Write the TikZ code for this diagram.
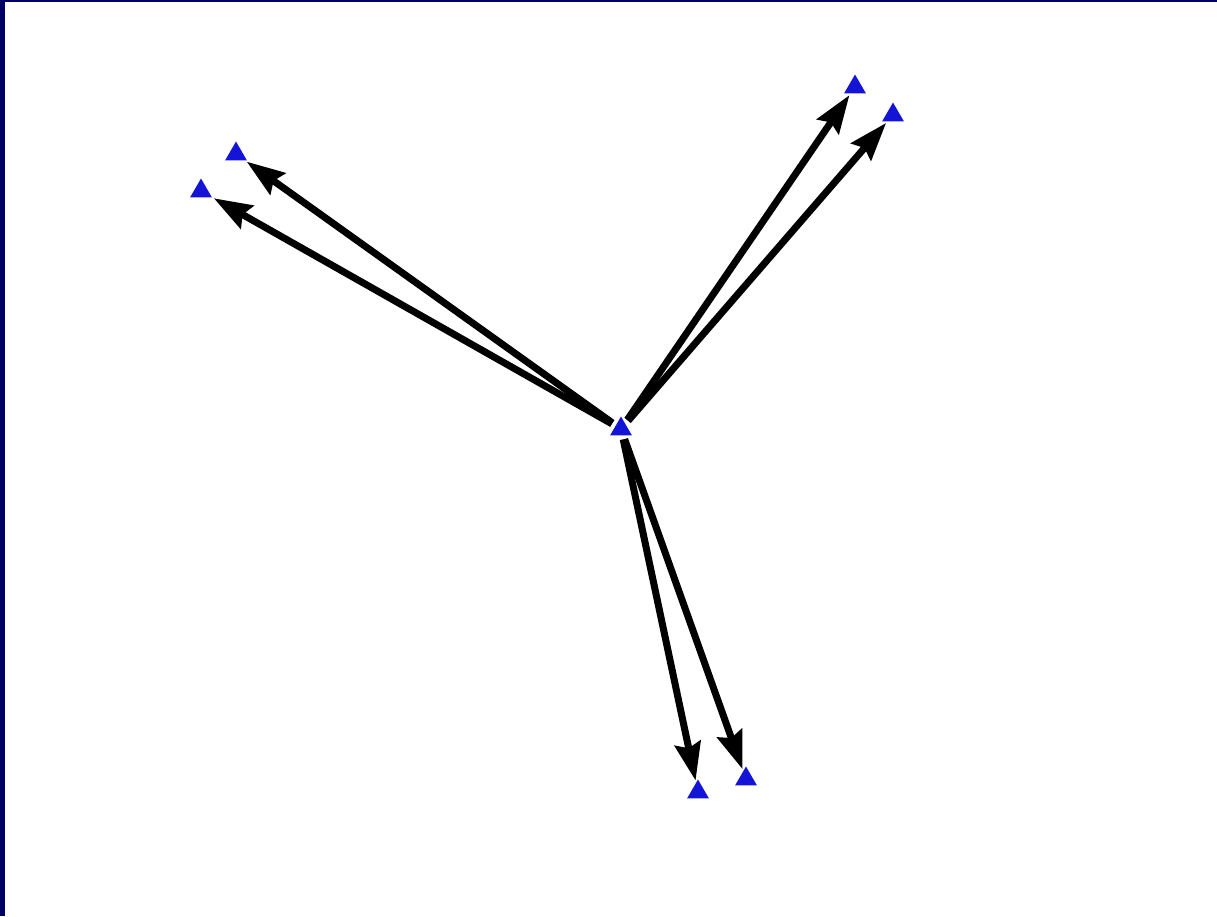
\documentclass[tikz,border=0pt]{standalone}
\usepackage{tikz}
\usetikzlibrary{arrows.meta,shapes.geometric}
\definecolor{navy}{RGB}{0,0,100}
\definecolor{tblue}{RGB}{20,20,215}

\begin{document}
\begin{tikzpicture}[
  x=1pt,y=-1pt,
  tri/.style={regular polygon,regular polygon sides=3,fill=tblue,draw=none,minimum size=25pt,inner sep=0pt},
  arrow/.style={-{Stealth[length=38pt,width=26pt,inset=5pt]},line width=7pt,shorten >=2pt,shorten <=4pt}
]
\useasboundingbox (0,0) rectangle (1217,916);
\fill[white] (0,0) rectangle (1217,916);
\fill[navy] (0,0) rectangle (5,916);
\fill[navy] (0,0) rectangle (1217,1.5);
\node[tri] (o) at (621,429) {};
\node[tri] (a1) at (236,154) {};
\node[tri] (a2) at (201,191) {};
\node[tri] (b1) at (855,87) {};
\node[tri] (b2) at (893,115) {};
\node[tri] (c1) at (698,792) {};
\node[tri] (c2) at (746,779) {};
\draw[arrow] (o) -- (a1);
\draw[arrow] (o) -- (a2);
\draw[arrow] (o) -- (b1);
\draw[arrow] (o) -- (b2);
\draw[arrow] (o) -- (c1);
\draw[arrow] (o) -- (c2);
\end{tikzpicture}
\end{document}
